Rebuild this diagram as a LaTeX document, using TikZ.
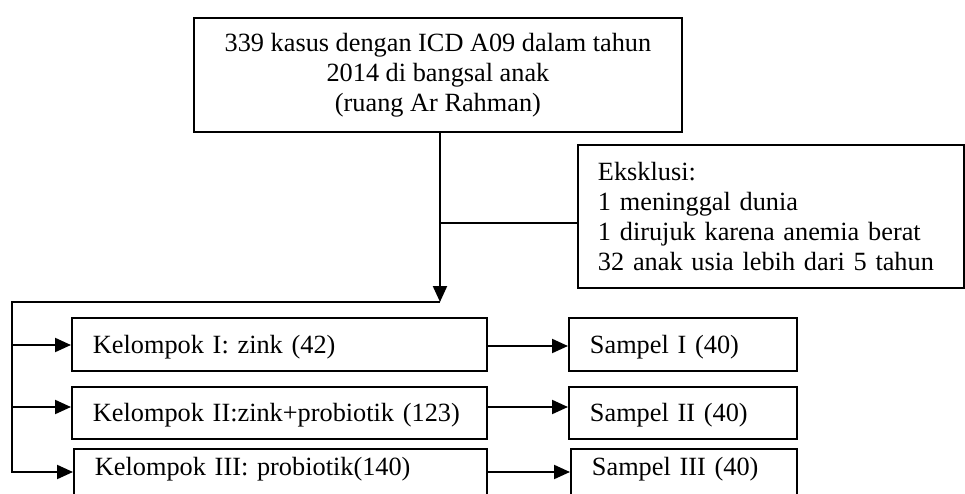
\documentclass[tikz,border=0pt]{standalone}
\usepackage{fontspec}
\setmainfont{Liberation Serif}
\usetikzlibrary{arrows.meta}
\begin{document}
\begin{tikzpicture}[x=1pt,y=-1pt,
  every node/.style={font=\fontsize{26.3}{29.8}\selectfont},
  box/.style={draw,line width=1.9pt,rectangle,anchor=north west,inner ysep=0pt},
  lbox/.style={box,inner xsep=21pt,align=left,text height=18pt,text depth=0pt},
  cutbox/.style={box,inner xsep=21pt,align=left,text height=18pt,text depth=18pt,inner ysep=9pt},
  conn/.style={line width=2.1pt},
  arr/.style={conn,-{Triangle[length=16pt,width=14pt]}}]
\useasboundingbox (0,0) rectangle (965,494);
% boxes
\node[box,minimum width=488pt,minimum height=114pt,align=center] (top) at (193,17)
  {339 kasus dengan ICD A09 dalam tahun\\2014 di bangsal anak\\(ruang Ar Rahman)};
\node[box,minimum width=386pt,minimum height=143pt,inner xsep=20pt,text width=346pt,align=left] (eks) at (577,144)
  {Eksklusi:\\1 meninggal dunia\\1 dirujuk karena anemia berat\\32 anak usia lebih dari 5 tahun};
\node[lbox,minimum width=415pt,minimum height=53pt,text width=373pt] (kel1) at (71,317) {Kelompok I: zink (42)};
\node[lbox,minimum width=415pt,minimum height=52pt,text width=373pt] (kel2) at (71,386) {Kelompok II:zink+probiotik (123)};
\node[cutbox,minimum width=413pt,text width=371pt] (kel3) at (73,448) {Kelompok III: probiotik(140)};
\node[lbox,minimum width=228pt,minimum height=53pt,text width=186pt] (sam1) at (568,317) {Sampel I (40)};
\node[lbox,minimum width=228pt,minimum height=52pt,text width=186pt] (sam2) at (568,386) {Sampel II (40)};
\node[cutbox,minimum width=226pt,text width=184pt] (sam3) at (570,448) {Sampel III (40)};
% junction coordinates
\coordinate (j) at (440,302);
\coordinate (je) at (440,223);
\coordinate (lt) at (12,302);
\coordinate (lb) at (12,473);
\coordinate (b1) at (12,345);
\coordinate (b2) at (12,407);
\coordinate (b3) at (12,472);
\coordinate (c1) at (486,346);
\coordinate (c2) at (486,407);
\coordinate (c3) at (486,472);
% connectors
\draw[arr] (j |- top.south) -- (j);
\draw[conn] (je) -- (je -| eks.west);
\draw[conn] (j) -- (lt) -- (lb);
\draw[arr] (b1) -- (b1 -| kel1.west);
\draw[arr] (b2) -- (b2 -| kel2.west);
\draw[arr] (b3) -- (b3 -| kel3.west);
\draw[arr] (c1 -| kel1.east) -- (c1 -| sam1.west);
\draw[arr] (c2 -| kel2.east) -- (c2 -| sam2.west);
\draw[arr] (c3 -| kel3.east) -- (c3 -| sam3.west);
\end{tikzpicture}
\end{document}
